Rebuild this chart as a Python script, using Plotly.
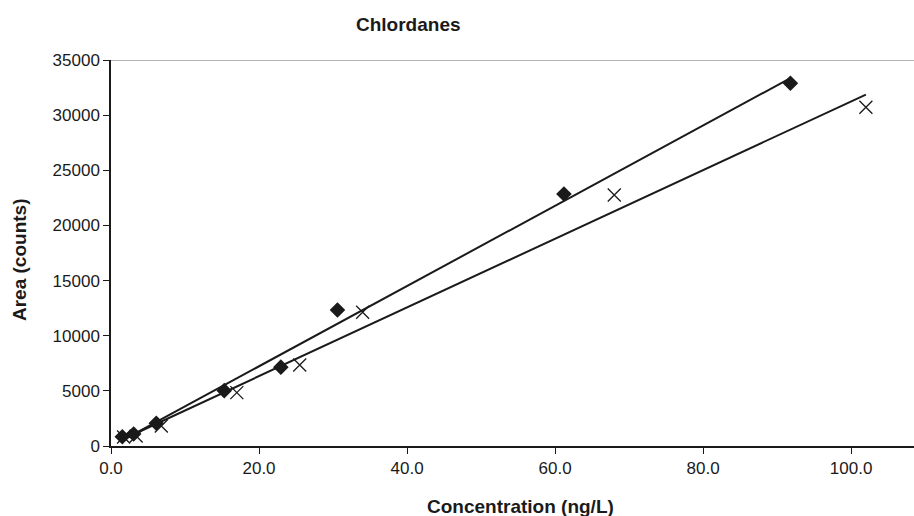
import numpy as np
import plotly.graph_objects as go

# Data
conc_a = [1.53, 3.06, 6.12, 15.3, 22.95, 30.6, 61.2, 91.8]
area_a = [840, 1090, 2060, 5020, 7150, 12330, 22850, 32890]
conc_b = [1.7, 3.4, 6.8, 17.0, 25.5, 34.0, 68.0, 102.0]
area_b = [820, 910, 1820, 4840, 7340, 12120, 22760, 30710]
x_ticks = [0, 20, 40, 60, 80, 100]
y_ticks = [0, 5000, 10000, 15000, 20000, 25000, 30000, 35000]

FONT = "Liberation Sans, Arial, sans-serif"
INK = "#1a1a1a"

def fit(x, y):
    m, b = np.polyfit(x, y, 1)
    xs = [min(x), max(x)]
    return xs, [m * v + b for v in xs]

fig = go.Figure()
for cx, ay in [(conc_a, area_a), (conc_b, area_b)]:
    fx, fy = fit(cx, ay)
    fig.add_trace(go.Scatter(x=fx, y=fy, mode="lines",
                             line=dict(color=INK, width=2),
                             showlegend=False, hoverinfo="skip"))
fig.add_trace(go.Scatter(x=conc_a, y=area_a, mode="markers",
                         marker=dict(symbol="diamond", size=12, color=INK),
                         showlegend=False))
fig.add_trace(go.Scatter(x=conc_b, y=area_b, mode="markers",
                         marker=dict(symbol="x-thin-open", size=13, color=INK,
                                     line=dict(color=INK, width=1.3)),
                         showlegend=False))

fig.add_shape(type="line", xref="paper", yref="y", x0=0, x1=1, y0=35000, y1=35000,
              line=dict(color="#999999", width=1.5))

fig.update_layout(
    width=914, height=516,
    margin=dict(l=111, r=0, t=60, b=70),
    paper_bgcolor="white", plot_bgcolor="white",
    font=dict(family=FONT, size=17, color=INK),
    xaxis=dict(range=[0, 108.5], tickvals=x_ticks,
               ticktext=[f"{v:.1f}" for v in x_ticks],
               showgrid=False, zeroline=False, showline=True,
               linecolor=INK, linewidth=1.5,
               ticks="outside", ticklen=6, tickcolor=INK,
               tickfont=dict(size=17, family=FONT)),
    yaxis=dict(range=[0, 35000], tickvals=y_ticks,
               ticktext=[str(v) for v in y_ticks],
               showgrid=False, zeroline=False, showline=True,
               linecolor=INK, linewidth=1.5,
               ticks="outside", ticklen=6, tickcolor=INK,
               tickfont=dict(size=17, family=FONT)),
    annotations=[
        dict(text="<b>Chlordanes</b>", xref="paper", yref="paper",
             x=(354 - 111) / 803, y=1, yshift=36, yanchor="middle",
             showarrow=False,
             font=dict(size=19, family=FONT, color=INK)),
        dict(text="<b>Concentration (ng/L)</b>", xref="paper", yref="paper",
             x=(520 - 111) / 803, y=0, yshift=-60, yanchor="middle",
             showarrow=False,
             font=dict(size=19, family=FONT, color=INK)),
        dict(text="<b>Area (counts)</b>", xref="paper", yref="paper",
             x=0, xshift=-92, xanchor="center", y=(446 - 260) / 386,
             yanchor="middle", textangle=-90, showarrow=False,
             font=dict(size=19, family=FONT, color=INK)),
    ],
)

fig.write_html("out.html")
